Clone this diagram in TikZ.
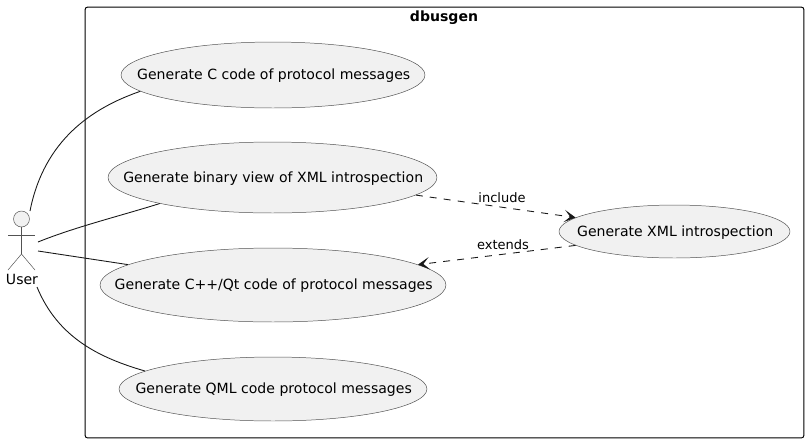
\documentclass[tikz,border=0pt]{standalone}
\usepackage{fontspec}
\setmainfont{DejaVu Sans}
\usetikzlibrary{arrows.meta,shapes.geometric}
\definecolor{usefill}{HTML}{F1F1F1}
\definecolor{useline}{HTML}{181818}

\begin{document}
\begin{tikzpicture}[
    x=0.02cm, y=-0.02cm,
    usecase/.style={ellipse, draw=useline!75, fill=usefill, line width=0.28pt, inner sep=0pt,
        label={[inner sep=0pt, xshift=0.4pt, yshift=-0.6pt, font=\fontsize{8}{10}\selectfont]center:#1}},
    boxnode/.style={rectangle, draw=black, line width=0.55pt, rounded corners=1.5pt, inner sep=0pt},
    titlenode/.style={rectangle, fill=none, inner sep=1pt, font=\fontsize{8}{10}\selectfont\bfseries},
    labelnode/.style={rectangle, fill=none, inner sep=1pt, font=\fontsize{7.4}{9}\selectfont},
    actorline/.style={draw=useline!75, line width=0.28pt},
    assoc/.style={draw=useline, line width=0.5pt},
    dep/.style={draw=useline, line width=0.5pt, dash pattern=on 4pt off 4pt, -{Stealth[length=6.5pt, width=7pt, inset=3.4pt]}}
]
\useasboundingbox (0,0) rectangle (809,444);

% system box
\node[boxnode, minimum width=14.38cm, minimum height=8.62cm] (dbusgen) at (444.5,222.5) {};
\node[titlenode] (boxtitle) at (444,18) {dbusgen};

% use cases
\node[usecase={Generate C code of protocol messages}, minimum width=6.08cm, minimum height=1.32cm] (cgen) at (273,75) {};
\node[usecase={Generate binary view of XML introspection}, minimum width=6.58cm, minimum height=1.42cm] (bingen) at (272.5,177.5) {};
\node[usecase={Generate C++/Qt code of protocol messages}, minimum width=6.92cm, minimum height=1.48cm] (qtgen) at (273,285) {};
\node[usecase={Generate QML code protocol messages}, minimum width=6.16cm, minimum height=1.28cm] (qmlgen) at (273,389) {};
\node[usecase={Generate XML introspection}, minimum width=4.62cm, minimum height=1.06cm] (xmlgen) at (674.5,231.5) {};

% actor
\node[circle, draw=useline!75, fill=usefill, line width=0.28pt, minimum size=0.32cm, inner sep=0pt] (userhead) at (21.5,219) {};
\coordinate (hip) at (21.5,254);
\coordinate (lefthand) at (8,235);
\coordinate (righthand) at (35,235);
\coordinate (leftfoot) at (8,270);
\coordinate (rightfoot) at (35,270);
\draw[actorline] (userhead)--(hip);
\draw[actorline] (lefthand)--(righthand);
\draw[actorline] (leftfoot)--(hip)--(rightfoot);
\node[rectangle, inner sep=0pt, font=\fontsize{8}{10}\selectfont] (user) at (22,279) {User};

% actor links
\coordinate (userc) at (30,211);
\coordinate (userbin) at (38,242);
\coordinate (userqt) at (38,251);
\coordinate (userqml) at (37,287);
\draw[assoc] (userc) .. controls (44,140) and (92,108) .. (cgen.187.4);
\draw[assoc] (userbin) .. controls (75,227) and (120,216) .. (bingen.193.3);
\draw[assoc] (userqt)--(qtgen.172);
\draw[assoc] (userqml) .. controls (58,338) and (100,358) .. (qmlgen.172);

% dependencies
\draw[dep] (bingen.-7.5)--(xmlgen.172.3);
\draw[dep] (xmlgen.188)--(qtgen.8.5);
\node[labelnode] (includelabel) at (502,198) {include};
\node[labelnode] (extendslabel) at (503,244.5) {extends};

\end{tikzpicture}
\end{document}
